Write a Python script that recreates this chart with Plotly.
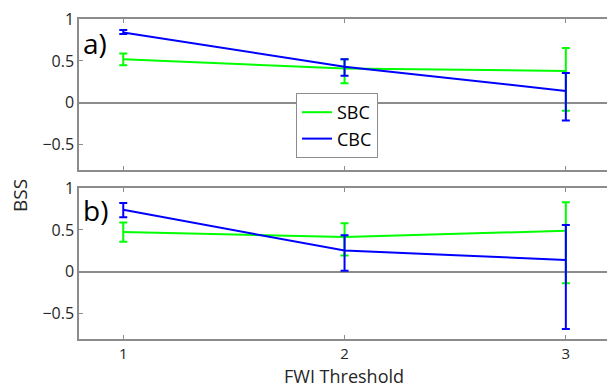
import plotly.graph_objects as go

x_thr = [1, 2, 3]

# panel a
sbc_a = [0.52, 0.41, 0.38]
sbc_a_up = [0.07, 0.11, 0.275]
sbc_a_dn = [0.07, 0.175, 0.475]
cbc_a = [0.84, 0.43, 0.143]
cbc_a_up = [0.03, 0.09, 0.214]
cbc_a_dn = [0.02, 0.105, 0.353]

# panel b
sbc_b = [0.475, 0.417, 0.49]
sbc_b_up = [0.115, 0.163, 0.34]
sbc_b_dn = [0.115, 0.222, 0.625]
cbc_b = [0.74, 0.254, 0.143]
cbc_b_up = [0.08, 0.183, 0.417]
cbc_b_dn = [0.09, 0.239, 0.823]

y_ticks = [-0.5, 0, 0.5, 1]
y_ticklabels = ["\u22120.5", "0", "0.5", "1"]
x_ticks = [1, 2, 3]

GREEN = "#00ff00"
BLUE = "#0000ff"
AX = "#8c8c8c"
TXT = "#262626"
FONT = "Open Sans"

fig = go.Figure()

def add(xa, ya, y, up, dn, color, name, show):
    fig.add_trace(go.Scatter(
        x=x_thr, y=y, mode="lines", name=name, showlegend=show,
        line=dict(color=color, width=2),
        error_y=dict(type="data", symmetric=False, array=up, arrayminus=dn,
                     color=color, thickness=2, width=4),
        xaxis=xa, yaxis=ya))

add("x", "y", sbc_a, sbc_a_up, sbc_a_dn, GREEN, "SBC", True)
add("x", "y", cbc_a, cbc_a_up, cbc_a_dn, BLUE, "CBC", True)
add("x2", "y2", sbc_b, sbc_b_up, sbc_b_dn, GREEN, "SBC", False)
add("x2", "y2", cbc_b, cbc_b_up, cbc_b_dn, BLUE, "CBC", False)

H = 387.0
W = 607.0
xdom = [79 / W, 1.0]
ya_dom = [1 - 170 / H, 1 - 19 / H]
yb_dom = [1 - 339 / H, 1 - 188 / H]

common_x = dict(range=[0.8, 3.186], tickvals=x_ticks, ticks="inside", ticklen=4,
                tickcolor=AX, showline=True, linecolor=AX, linewidth=1.5,
                mirror="ticks", showgrid=False, zeroline=False, automargin=False,
                tickfont=dict(size=15, color=TXT, family=FONT))
common_y = dict(range=[-0.8, 1.0], tickvals=y_ticks, ticktext=y_ticklabels,
                ticks="inside", ticklen=4, tickcolor=AX, showline=True,
                linecolor=AX, linewidth=1.5, mirror=False, showgrid=False,
                zeroline=True, zerolinecolor=AX, zerolinewidth=1.5, automargin=False,
                tickfont=dict(size=16, color=TXT, family=FONT))

fig.update_layout(
    width=607, height=387,
    margin=dict(l=0, r=0, t=0, b=0, autoexpand=False),
    paper_bgcolor="white", plot_bgcolor="white",
    font=dict(family=FONT, color=TXT),
    xaxis=dict(domain=xdom, anchor="y", showticklabels=False, **common_x),
    yaxis=dict(domain=ya_dom, anchor="x", **common_y),
    xaxis2=dict(domain=xdom, anchor="y2", showticklabels=True, **common_x),
    yaxis2=dict(domain=yb_dom, anchor="x2", **common_y),
    legend=dict(x=296 / W, y=1 - 93 / H, xanchor="left", yanchor="top",
                bgcolor="white", bordercolor=AX, borderwidth=1,
                font=dict(size=18, color="black", family=FONT),
                tracegroupgap=0, itemwidth=30),
    showlegend=True,
    annotations=[
        dict(text="a)", x=81 / W, y=1 - 43 / H, xref="paper", yref="paper",
             xanchor="left", yanchor="middle", showarrow=False,
             font=dict(size=28, color="black", family=FONT)),
        dict(text="b)", x=81 / W, y=1 - 210 / H, xref="paper", yref="paper",
             xanchor="left", yanchor="middle", showarrow=False,
             font=dict(size=28, color="black", family=FONT)),
        dict(text="BSS", x=20 / W, y=1 - 196 / H, xref="paper", yref="paper",
             xanchor="center", yanchor="middle", showarrow=False, textangle=-90,
             font=dict(size=19, color=TXT, family=FONT)),
        dict(text="FWI Threshold", x=344 / W, y=1 - 376 / H, xref="paper", yref="paper",
             xanchor="center", yanchor="middle", showarrow=False,
             font=dict(size=18, color=TXT, family=FONT)),
    ],
)

fig.write_html("out.html")
